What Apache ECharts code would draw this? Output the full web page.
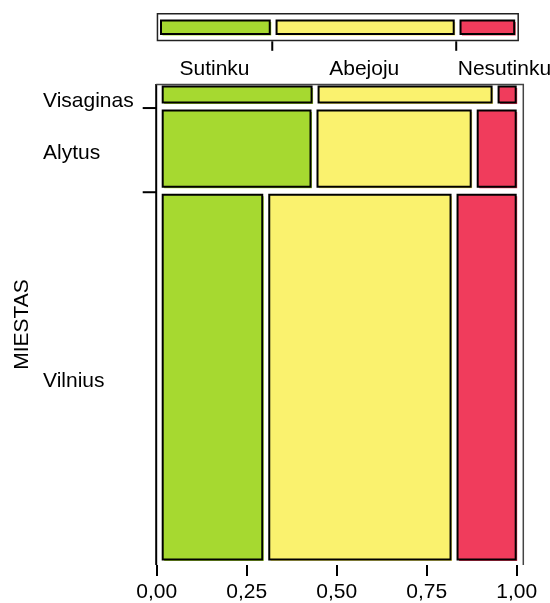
<!DOCTYPE html>
<html>
<head>
<meta charset="utf-8">
<script src="https://cdn.jsdelivr.net/npm/echarts@6/dist/echarts.min.js"></script>
<style>
  html, body { margin: 0; padding: 0; background: #fff; }
  #chart { width: 550px; height: 603px; }
</style>
</head>
<body>
<div id="chart"></div>
<script>
// Cities, listed from the bottom band to the top band
const cities = ['Vilnius', 'Alytus', 'Visaginas'];
// Share of respondents in each city (band heights)
const cityShare = [0.775, 0.175, 0.050];
// Answer categories
const responses = ['Sutinku', 'Abejoju', 'Nesutinku'];
// Share of each answer within a city
const vilnius = [0.296, 0.523, 0.181];
const alytus = [0.430, 0.445, 0.125];
const visaginas = [0.433, 0.500, 0.067];
// Share of each answer over all respondents (top bar)
const overall = [0.321, 0.511, 0.168];
// Horizontal axis ticks
const xTicks = [0, 0.25, 0.5, 0.75, 1];

const cityRows = [vilnius, alytus, visaginas];
const colors = ['#a6d930', '#faf26e', '#f03c5c'];
const FAMILY = '"Liberation Sans", Arial, sans-serif';
const FONT = '21px ' + FAMILY;

// Cumulative band edges for the cities
const bandEdges = [];
let acc = 0;
cityShare.forEach(s => { bandEdges.push([acc, acc + s]); acc += s; });
bandEdges[bandEdges.length - 1][1] = 1;

// Mosaic cells: [x0, x1, y0, y1, responseIndex]
const cells = [];
cityRows.forEach((row, i) => {
  let x = 0;
  row.forEach((p, j) => {
    const x1 = j === row.length - 1 ? 1 : x + p;
    cells.push([x, x1, bandEdges[i][0], bandEdges[i][1], j]);
    x = x1;
  });
});

// Segments of the overall bar
const overallSegs = [];
let ox = 0;
overall.forEach((p, j) => {
  const x1 = j === overall.length - 1 ? 1 : ox + p;
  overallSegs.push([ox, x1, j]);
  ox = x1;
});

function textEl(text, x, y, align, valign) {
  return {
    type: 'text',
    style: {
      text: text, x: x, y: y, font: FONT, fill: '#000',
      align: align, verticalAlign: valign,
      textAlign: align, textVerticalAlign: valign
    }
  };
}

function cellEl(left, top, right, bottom, color) {
  return [
    { type: 'rect', shape: { x: left + 1.5, y: top + 1.5, width: right - left, height: bottom - top },
      style: { fill: color } },
    { type: 'rect', shape: { x: left, y: top, width: right - left, height: bottom - top },
      style: { fill: color, stroke: '#000', lineWidth: 2 } }
  ];
}

const option = {
  animation: false,
  grid: [
    { left: 156.7, right: 33.3, top: 84, bottom: 36.3 },
    { left: 156.7, right: 33.3, top: 13, height: 28.3 }
  ],
  xAxis: [
    {
      gridIndex: 0, type: 'value', min: 0, max: 1, interval: 0.25,
      axisLine: { show: false },
      splitLine: { show: false },
      axisTick: { show: true, length: 11, lineStyle: { color: '#000', width: 2 } },
      axisLabel: {
        show: true, margin: 17, fontSize: 21, color: '#000',
        fontFamily: FAMILY,
        showMinLabel: true, showMaxLabel: true,
        formatter: v => xTicks.includes(v) ? v.toFixed(2).replace('.', ',') : ''
      }
    },
    { gridIndex: 1, type: 'value', min: 0, max: 1, show: false }
  ],
  yAxis: [
    {
      gridIndex: 0, type: 'value', min: 0, max: 1,
      axisLine: { show: false }, axisTick: { show: false },
      axisLabel: { show: false }, splitLine: { show: false },
      name: 'MIESTAS', nameLocation: 'middle', nameRotate: 90, nameGap: 124,
      nameTextStyle: { fontSize: 21, color: '#000', fontFamily: FAMILY }
    },
    { gridIndex: 1, type: 'value', min: 0, max: 1, show: false }
  ],
  series: [
    // Frame around the mosaic (left, top, right)
    {
      type: 'custom', xAxisIndex: 0, yAxisIndex: 0, clip: false, silent: true,
      data: [[0, 0]],
      renderItem: (params, api) => {
        const bl = api.coord([0, 0]);
        const tr = api.coord([1, 1]);
        return {
          type: 'group',
          children: [
            { type: 'line', shape: { x1: bl[0] - 0.5, y1: tr[1], x2: bl[0] - 0.5, y2: bl[1] },
              style: { stroke: '#000', lineWidth: 2 } },
            { type: 'polyline', shape: { points: [[bl[0] - 0.5, tr[1] + 0.5], [tr[0] + 6.6, tr[1] + 0.5], [tr[0] + 6.6, bl[1]]] },
              style: { stroke: '#444', lineWidth: 1.5, fill: null } }
          ]
        };
      }
    },
    // Mosaic cells
    {
      type: 'custom', xAxisIndex: 0, yAxisIndex: 0, clip: false, silent: true,
      data: cells.map((c, i) => [c[0], c[2], i]),
      renderItem: (params, api) => {
        const c = cells[params.dataIndex];
        const tl = api.coord([c[0], c[3]]);
        const br = api.coord([c[1], c[2]]);
        return {
          type: 'group',
          children: cellEl(tl[0] + 6, tl[1] + 2.5, br[0] - 1, br[1] - 5.5, colors[c[4]])
        };
      }
    },
    // City labels and band ticks
    {
      type: 'custom', xAxisIndex: 0, yAxisIndex: 0, clip: false, silent: true,
      data: cities.map((n, i) => [0, bandEdges[i][0], i]),
      renderItem: (params, api) => {
        const i = params.dataIndex;
        const e = bandEdges[i];
        const lo = api.coord([0, e[0]]);
        const hi = api.coord([0, e[1]]);
        const children = [textEl(cities[i], lo[0] - 113.7, Math.max((lo[1] + hi[1]) / 2 + 3, hi[1] + 17), 'left', 'middle')];
        if (e[1] < 1) {
          children.push({ type: 'line', shape: { x1: hi[0] - 14, y1: hi[1], x2: hi[0], y2: hi[1] },
            style: { stroke: '#000', lineWidth: 2 } });
        }
        return { type: 'group', children: children };
      }
    },
    // Overall answer bar with its labels
    {
      type: 'custom', xAxisIndex: 1, yAxisIndex: 1, clip: false, silent: true,
      data: overallSegs.map((s, i) => [s[0], 0, i]),
      renderItem: (params, api) => {
        const s = overallSegs[params.dataIndex];
        const j = s[2];
        const tl = api.coord([s[0], 1]);
        const br = api.coord([s[1], 0]);
        const children = cellEl(tl[0] + 4.3, tl[1] + 7.5, br[0] - 2.5, br[1] - 7.3, colors[j]);
        const last = j === overallSegs.length - 1;
        if (j === 0) {
          const fl = api.coord([0, 1]);
          const fr = api.coord([1, 0]);
          children.unshift({ type: 'rect',
            shape: { x: fl[0] + 0.75, y: fl[1] + 0.75, width: fr[0] - fl[0] + 0.75, height: fr[1] - fl[1] - 1.5 },
            style: { fill: null, stroke: '#222', lineWidth: 1.5 } });
        }
        if (!last) {
          children.push({ type: 'line', shape: { x1: br[0], y1: br[1], x2: br[0], y2: br[1] + 9.5 },
            style: { stroke: '#000', lineWidth: 2 } });
        }
        const ly = br[1] + 28.2;
        if (last) {
          children.push(textEl(responses[j], tl[0] + 1.5, ly, 'left', 'middle'));
        } else {
          children.push(textEl(responses[j], (tl[0] + br[0]) / 2, ly, 'center', 'middle'));
        }
        return { type: 'group', children: children };
      }
    }
  ]
};

const chart = echarts.init(document.getElementById('chart'), null, { renderer: 'canvas' });
chart.setOption(option);
</script>
</body>
</html>
